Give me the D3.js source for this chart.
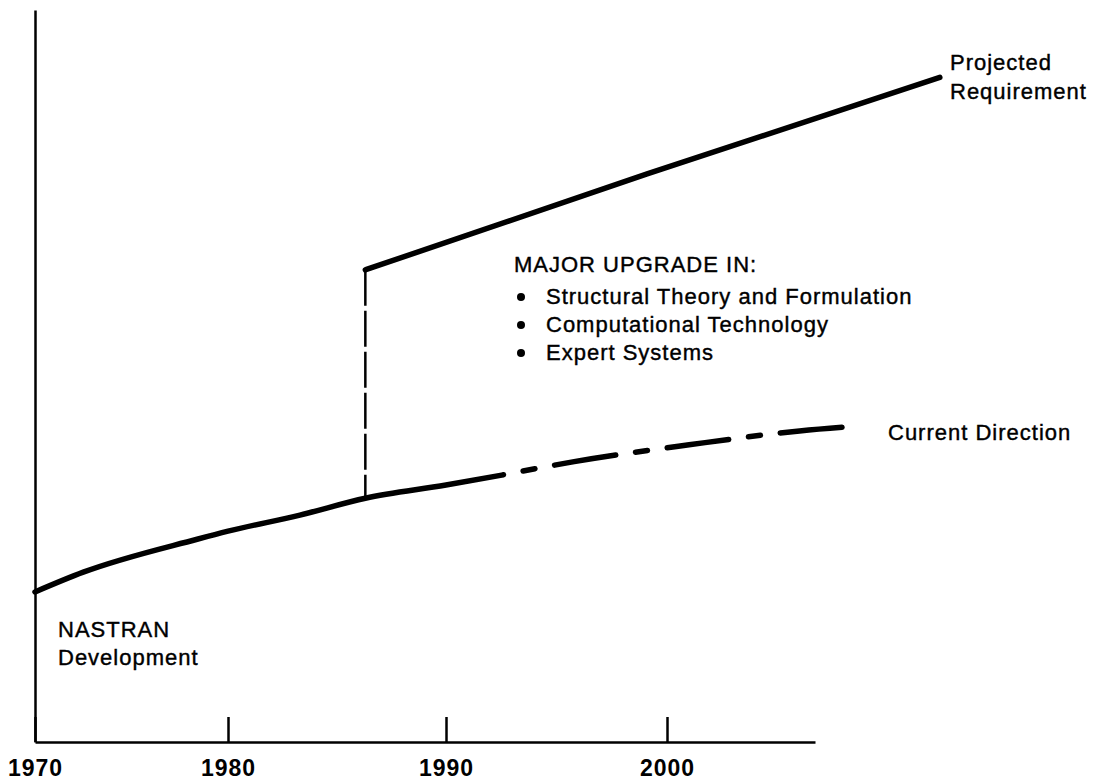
<!DOCTYPE html>
<html>
<head>
<meta charset="utf-8">
<script src="https://cdn.jsdelivr.net/npm/d3@7"></script>
<style>
  body { margin: 0; background: #fff; }
  svg text { font-family: "Liberation Sans", Arial, sans-serif; fill: #000; }
</style>
</head>
<body>
<svg id="chart" width="1097" height="783"></svg>
<script>
// tick years along the bottom
var tickYears = [1970, 1980, 1990, 2000];
var axisEndYear = 2006.7;

// current direction: solid part (to ~1992.6) then dashed projection
var currentSolid = [
  [1970, 20.5], [1972.5, 23.2], [1978.4, 27.7], [1980, 28.8],
  [1983.3, 31.0], [1986.3, 33.3], [1990, 35.1], [1992.6, 36.5]
];
var currentDashed = [
  [1992.6, 36.5], [1995.8, 38.3], [2001.0, 40.6], [2006.0, 42.5], [2008.8, 43.2]
];

// projected requirement after the major upgrade
var upgradeYear = 1986.3;
var projected = [[1986.3, 64.5], [1999.1, 77.6], [2012.35, 90.8]];

var upgradeItems = [
  "Structural Theory and Formulation",
  "Computational Technology",
  "Expert Systems"
];

var svg = d3.select("#chart");

// hand drawn year spacing is not even, so piecewise scale
var x = d3.scaleLinear()
    .domain([1970, 1980, 1990, 2000, axisEndYear])
    .range([35, 228, 446, 667, 815]);

var y = d3.scaleLinear()
    .domain([0, 100])
    .range([742, 10]);

// y axis: bare line
var yAxis = svg.append("g")
    .attr("transform", "translate(" + x(1970) + ",0)")
    .call(d3.axisLeft(y).tickValues([]).tickSizeOuter(0));
yAxis.select(".domain").attr("stroke", "#000").attr("stroke-width", 2.5);

// x axis with ticks pointing up
var xAxis = svg.append("g")
    .attr("transform", "translate(0," + y(0) + ")")
    .call(d3.axisBottom(x)
      .tickValues(tickYears)
      .tickFormat(d3.format("d"))
      .tickSizeInner(-25)
      .tickSizeOuter(0)
      .tickPadding(18));
xAxis.select(".domain").attr("stroke", "#000").attr("stroke-width", 2.5);
xAxis.selectAll(".tick line").attr("stroke", "#000").attr("stroke-width", 2.5);
xAxis.selectAll(".tick text")
    .attr("font-size", "23px")
    .attr("font-weight", "bold")
    .attr("letter-spacing", "1px")
    .attr("fill", "#000")
    .attr("font-family", "'Liberation Sans', Arial, sans-serif");

var line = d3.line()
    .x(function(d){ return x(d[0]); })
    .y(function(d){ return y(d[1]); })
    .curve(d3.curveMonotoneX);

svg.append("path")
    .datum(currentSolid)
    .attr("d", line)
    .attr("fill", "none")
    .attr("stroke", "#000")
    .attr("stroke-width", 5.5)
    .attr("stroke-linecap", "round");

svg.append("path")
    .datum(currentDashed)
    .attr("d", line)
    .attr("fill", "none")
    .attr("stroke", "#000")
    .attr("stroke-width", 5.5)
    .attr("stroke-linecap", "round")
    .attr("stroke-dasharray", "62 20 12 20")
    .attr("stroke-dashoffset", 62);

svg.append("path")
    .datum(projected)
    .attr("d", line)
    .attr("fill", "none")
    .attr("stroke", "#000")
    .attr("stroke-width", 5.5)
    .attr("stroke-linecap", "round");

// vertical dashed jump
svg.append("line")
    .attr("x1", x(upgradeYear))
    .attr("x2", x(upgradeYear))
    .attr("y1", y(projected[0][1]))
    .attr("y2", y(33.3))
    .attr("stroke", "#000")
    .attr("stroke-width", 2.5)
    .attr("stroke-dasharray", "36 5");

// labels
function label(txt, px, py) {
  return svg.append("text")
      .attr("x", px)
      .attr("y", py)
      .attr("font-size", "22px")
      .attr("letter-spacing", "1px")
      .attr("stroke", "#000")
      .attr("stroke-width", 0.4)
      .text(txt);
}

label("Projected", 950, 70);
label("Requirement", 950, 99);
label("Current Direction", 888, 440);
label("NASTRAN", 58, 637);
label("Development", 58, 665);

label("MAJOR UPGRADE IN:", 514, 272);
upgradeItems.forEach(function(t, i){
  var by = 304 + i * 28;
  svg.append("circle")
      .attr("cx", 521)
      .attr("cy", by - 7)
      .attr("r", 4)
      .attr("fill", "#000");
  label(t, 546, by);
});
</script>
</body>
</html>
